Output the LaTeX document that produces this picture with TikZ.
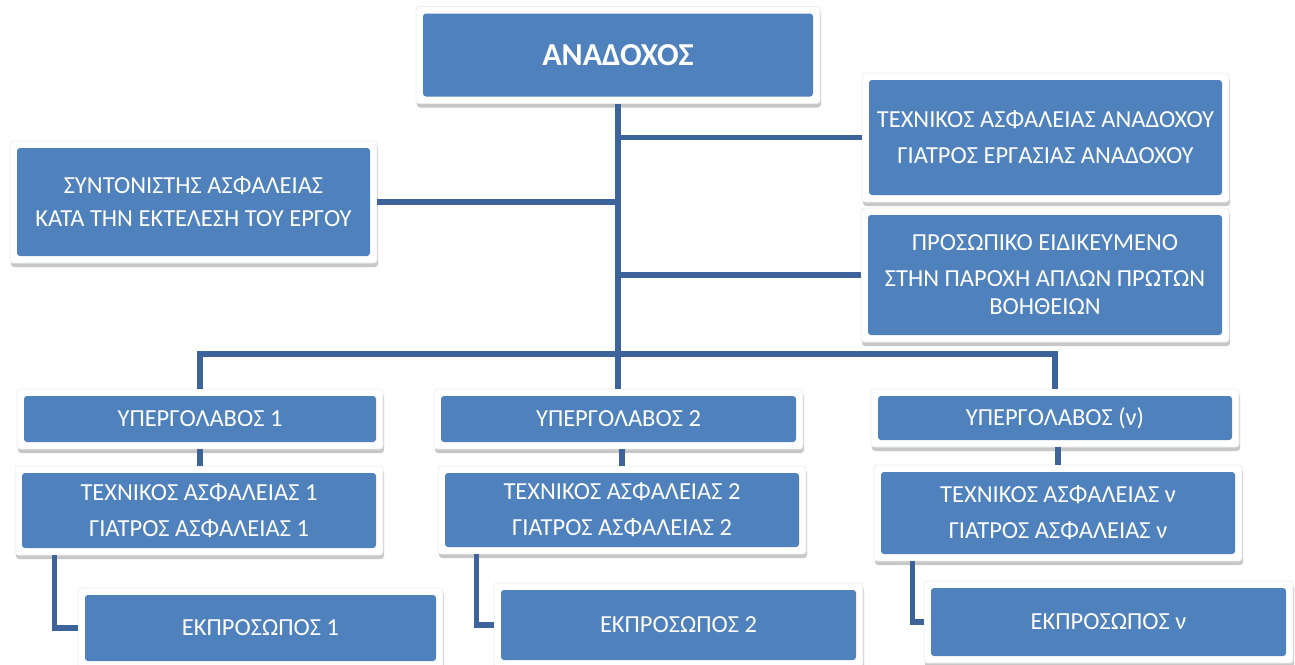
\documentclass[tikz,border=0pt]{standalone}
\usepackage{fontspec}
\setmainfont{Carlito}
\usetikzlibrary{shadows}
\definecolor{boxblue}{RGB}{79,129,189}
\definecolor{lineblue}{RGB}{60,100,155}
\tikzset{
  orgbox/.style={fill=white, draw=black!7, line width=0.8pt, rounded corners=3pt,
    inner sep=0pt, text=white, align=center,
    font=\fontsize{24.5}{28}\selectfont,
    drop shadow={shadow xshift=1pt, shadow yshift=-4pt, opacity=0.22, fill=black},
    path picture={\fill[boxblue] ([shift={(7pt,7pt)}]path picture bounding box.south west)
      rectangle ([shift={(-7pt,-7pt)}]path picture bounding box.north east);}},
  conn/.style={draw=lineblue, line width=5.5pt}
}
\begin{document}
\begin{tikzpicture}[x=1pt,y=-1pt]
\useasboundingbox (0,0) rectangle (1295,664);
% boxes
\node[orgbox, minimum width=404pt, minimum height=97pt,
      font=\fontsize{32}{40}\selectfont\bfseries] (A) at (618,55) {ΑΝΑΔΟΧΟΣ};
\node[orgbox, minimum width=367pt, minimum height=129pt] (R1) at (1045.5,137.5)
  {ΤΕΧΝΙΚΟΣ ΑΣΦΑΛΕΙΑΣ ΑΝΑΔΟΧΟΥ\\[8pt]ΓΙΑΤΡΟΣ ΕΡΓΑΣΙΑΣ ΑΝΑΔΟΧΟΥ};
\node[orgbox, minimum width=368pt, minimum height=134pt] (R2) at (1045,275)
  {ΠΡΟΣΩΠΙΚΟ ΕΙΔΙΚΕΥΜΕΝΟ\\[8pt]ΣΤΗΝ ΠΑΡΟΧΗ ΑΠΛΩΝ ΠΡΩΤΩΝ\\ΒΟΗΘΕΙΩΝ};
\node[orgbox, minimum width=367pt, minimum height=122pt] (L) at (193.5,202)
  {ΣΥΝΤΟΝΙΣΤΗΣ ΑΣΦΑΛΕΙΑΣ\\[5pt]ΚΑΤΑ ΤΗΝ ΕΚΤΕΛΕΣΗ ΤΟΥ ΕΡΓΟΥ};
\node[orgbox, minimum width=366pt, minimum height=60pt] (Y1) at (200,419) {ΥΠΕΡΓΟΛΑΒΟΣ 1};
\node[orgbox, minimum width=369pt, minimum height=60pt] (Y2) at (618.5,419) {ΥΠΕΡΓΟΛΑΒΟΣ 2};
\node[orgbox, minimum width=368pt, minimum height=58pt] (Yn) at (1055,418) {ΥΠΕΡΓΟΛΑΒΟΣ (ν)};
\node[orgbox, minimum width=368pt, minimum height=89pt] (T1) at (199,510.5)
  {ΤΕΧΝΙΚΟΣ ΑΣΦΑΛΕΙΑΣ 1\\[8pt]ΓΙΑΤΡΟΣ ΑΣΦΑΛΕΙΑΣ 1};
\node[orgbox, minimum width=368pt, minimum height=88pt] (T2) at (622,510)
  {ΤΕΧΝΙΚΟΣ ΑΣΦΑΛΕΙΑΣ 2\\[8pt]ΓΙΑΤΡΟΣ ΑΣΦΑΛΕΙΑΣ 2};
\node[orgbox, minimum width=368pt, minimum height=96pt] (Tn) at (1058,513)
  {ΤΕΧΝΙΚΟΣ ΑΣΦΑΛΕΙΑΣ ν\\[8pt]ΓΙΑΤΡΟΣ ΑΣΦΑΛΕΙΑΣ ν};
\node[orgbox, minimum width=365pt, minimum height=80pt] (E1) at (260.5,628) {ΕΚΠΡΟΣΩΠΟΣ 1};
\node[orgbox, minimum width=369pt, minimum height=84pt] (E2) at (678.5,625) {ΕΚΠΡΟΣΩΠΟΣ 2};
\node[orgbox, minimum width=369pt, minimum height=82pt] (En) at (1108.5,622) {ΕΚΠΡΟΣΩΠΟΣ ν};
% connectors
\coordinate (bus) at (618,354);
\draw[conn] (A.south) -- (A.south |- Y2.north);
\draw[conn] (A.south) |- (R1.west);
\draw[conn] (A.south) |- (R2.west);
\draw[conn] (A.south) |- (L.east);
\draw[conn] (Y1.north) |- (bus) -| (Yn.north);
\draw[conn] (Y1.south) -- (Y1.south |- T1.north);
\draw[conn] (T2.north) -- (T2.north |- Y2.south);
\draw[conn] (Tn.north) -- (Tn.north |- Yn.south);
\draw[conn] ([xshift=40pt]T1.south west) |- (E1.west);
\draw[conn] ([xshift=39pt]T2.south west) |- (E2.west);
\draw[conn] ([xshift=39pt]Tn.south west) |- (En.west);
\end{tikzpicture}
\end{document}
